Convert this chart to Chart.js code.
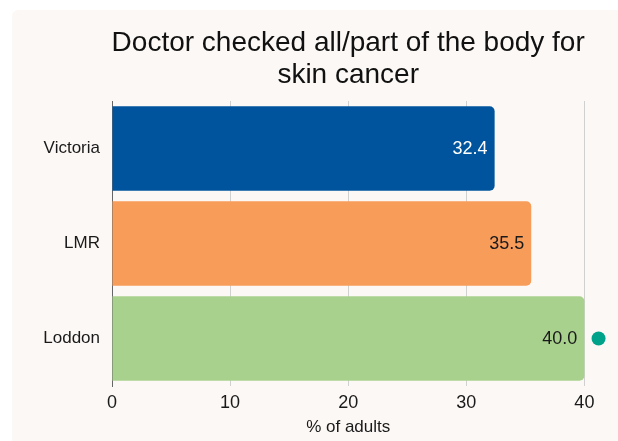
<!DOCTYPE html>
<html>
<head>
<meta charset="utf-8">
<script src="https://cdn.jsdelivr.net/npm/chart.js@4"></script>
<style>
  html, body { margin: 0; padding: 0; background: #ffffff; }
  #card { position: absolute; left: 12px; top: 10px; width: 620px; height: 440px; background: #fcf8f5; border-radius: 6px; }
  #chart { position: absolute; left: 0; top: 0; }
</style>
</head>
<body>
<div id="card"></div>
<canvas id="chart" width="618" height="441"></canvas>
<script>
const categories = ["Victoria", "LMR", "Loddon"];
const values = [32.4, 35.5, 40.0];
const marker = [null, null, 41.2];
const xTicks = [0, 10, 20, 30, 40];
const titleLines = ["Doctor checked all/part of the body for", "skin cancer"];
const xTitle = "% of adults";

const barColours = ["#00549d", "#f89c59", "#a9d18e"];
const labelColours = ["#ffffff", "#1a1a1a", "#1a1a1a"];
const font = "'Liberation Sans', Arial, sans-serif";

// titles centred over the 0-40 range, value labels at bar ends
const extras = {
  id: "extras",
  afterDraw(chart) {
    const ctx = chart.ctx;
    const x = chart.scales.x;
    const mid = (x.getPixelForValue(0) + x.getPixelForValue(40)) / 2;
    ctx.save();
    ctx.fillStyle = "#111";
    ctx.font = "28px " + font;
    ctx.textAlign = "center";
    ctx.textBaseline = "middle";
    titleLines.forEach((t, i) => ctx.fillText(t, mid, 43 + i * 32));

    ctx.fillStyle = "#1a1a1a";
    ctx.font = "17px " + font;
    ctx.fillText(xTitle, mid, 427);

    ctx.font = "18px " + font;
    ctx.textAlign = "right";
    chart.getDatasetMeta(1).data.forEach((bar, i) => {
      ctx.fillStyle = labelColours[i];
      ctx.fillText(values[i].toFixed(1), bar.x - 7, bar.y + 1);
    });
    ctx.restore();
  }
};

new Chart(document.getElementById("chart"), {
  type: "bar",
  data: {
    labels: categories,
    datasets: [
      {
        type: "line",
        data: marker,
        showLine: false,
        pointRadius: 7,
        pointHoverRadius: 7,
        pointBackgroundColor: "#00a38a",
        pointBorderWidth: 0,
        clip: false,
        order: 0
      },
      {
        data: values,
        backgroundColor: barColours,
        borderRadius: { topRight: 5, bottomRight: 5, topLeft: 0, bottomLeft: 0 },
        borderSkipped: false,
        barPercentage: 0.89,
        categoryPercentage: 1,
        order: 1
      }
    ]
  },
  options: {
    indexAxis: "y",
    responsive: false,
    animation: false,
    layout: { padding: { top: 101, right: 10, left: 0, bottom: 0 } },
    plugins: {
      legend: { display: false },
      tooltip: { enabled: false }
    },
    scales: {
      x: {
        min: 0,
        max: 42,
        afterBuildTicks: (s) => { s.ticks = xTicks.map(v => ({ value: v })); },
        grid: { color: "#d0d0d0", drawTicks: false },
        border: { display: false },
        ticks: { color: "#1a1a1a", font: { size: 18, family: font }, padding: 6 },
        afterFit: (s) => { s.height = 55; }
      },
      y: {
        grid: { display: false, drawTicks: false },
        border: { display: true, color: "#666" },
        ticks: { color: "#1a1a1a", font: { size: 17, family: font }, padding: 12 },
        afterFit: (s) => { s.width = 112; }
      }
    }
  },
  plugins: [extras]
});
</script>
</body>
</html>
